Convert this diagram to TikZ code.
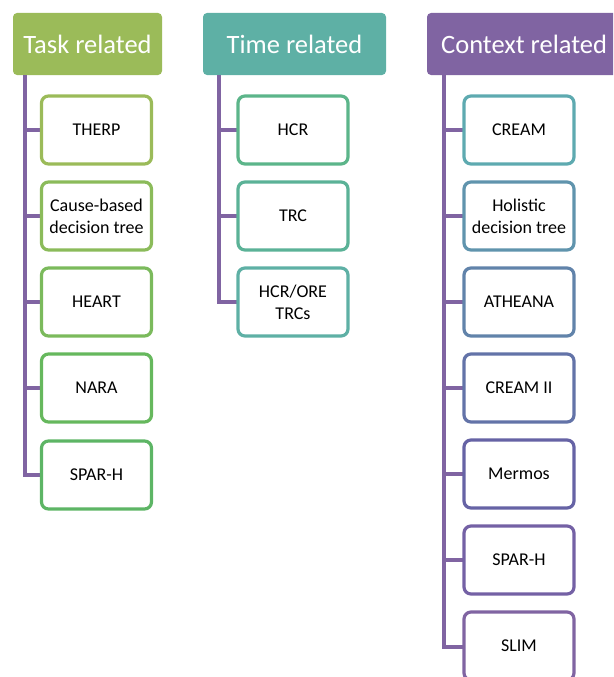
\documentclass[tikz,border=0pt]{standalone}
\usepackage{fontspec}
\setmainfont{Carlito}
\begin{document}
\begin{tikzpicture}[x=1pt,y=-1pt,
  hdr/.style={rounded corners=4pt, text=white, font=\fontsize{26.5}{30}\selectfont, inner sep=0pt},
  item/.style={draw=#1, fill=white, line width=3.2pt, rounded corners=7pt, minimum width=110pt, minimum height=68pt, inner sep=0pt, align=center, font=\fontsize{18}{22}\selectfont, text=black},
  bar/.style={draw=barpurple, line width=3.5pt}
]
\definecolor{barpurple}{HTML}{8064A2}
\definecolor{hTask}{HTML}{9BBB59}
\definecolor{hTime}{HTML}{5EB0A5}
\definecolor{hCtx}{HTML}{8064A2}
\definecolor{cA}{HTML}{9BBB59}
\definecolor{cB}{HTML}{8BBB5A}
\definecolor{cC}{HTML}{7BBA5C}
\definecolor{cD}{HTML}{66B85D}
\definecolor{cE}{HTML}{5DB565}
\definecolor{tA}{HTML}{5CB58A}
\definecolor{tB}{HTML}{5BB297}
\definecolor{tC}{HTML}{5EB0A5}
\definecolor{xA}{HTML}{5EAAB0}
\definecolor{xB}{HTML}{6094AD}
\definecolor{xC}{HTML}{6183AA}
\definecolor{xD}{HTML}{6373A8}
\definecolor{xE}{HTML}{6663A5}
\definecolor{xF}{HTML}{7461A5}
\definecolor{xG}{HTML}{8064A2}
\useasboundingbox (0,0) rectangle (613,677);
\clip (0,0) rectangle (613,677);
% headers
\fill[hTask, rounded corners=4pt] (13,13) rectangle (162,75);
\node[hdr] (h1) at (87.5,44) {Task related};
\fill[hTime, rounded corners=4pt] (203,13) rectangle (386,75);
\node[hdr] (h2) at (294.5,44) {Time related};
\fill[hCtx, rounded corners=4pt] (427,13) rectangle (640,75);
\node[hdr, anchor=west] (h3) at (441,44) {Context related};
% coordinates for bars
\coordinate (b1) at (25,75);
\coordinate (b2) at (219,75);
\coordinate (b3) at (444,75);
% bars (drawn first)
\draw[bar] (b1) -- (25,475) -- (42,475);
\foreach \y in {130,216,302,388} \draw[bar] (25,\y) -- (42,\y);
\draw[bar] (b2) -- (219,302) -- (238,302);
\foreach \y in {130,216} \draw[bar] (219,\y) -- (238,\y);
\draw[bar] (b3) -- (444,647) -- (464,647);
\foreach \y in {130,216,302,388,474,560} \draw[bar] (444,\y) -- (464,\y);
% task items
\node[item=cA] (t1) at (96.5,130) {THERP};
\node[item=cB] (t2) at (96.5,216) {Cause-based\\decision tree};
\node[item=cC] (t3) at (96.5,302) {HEART};
\node[item=cD] (t4) at (96.5,388) {NARA};
\node[item=cE] (t5) at (96.5,475) {SPAR-H};
% time items
\node[item=tA] (m1) at (293,130) {HCR};
\node[item=tB] (m2) at (293,216) {TRC};
\node[item=tC] (m3) at (293,302) {HCR/ORE\\TRCs};
% context items
\node[item=xA] (c1) at (519,130) {CREAM};
\node[item=xB] (c2) at (519,216) {Holistic\\decision tree};
\node[item=xC] (c3) at (519,302) {ATHEANA};
\node[item=xD] (c4) at (519,388) {CREAM II};
\node[item=xE] (c5) at (519,474) {Mermos};
\node[item=xF] (c6) at (519,560) {SPAR-H};
\node[item=xG] (c7) at (519,646) {SLIM};
\end{tikzpicture}
\end{document}
